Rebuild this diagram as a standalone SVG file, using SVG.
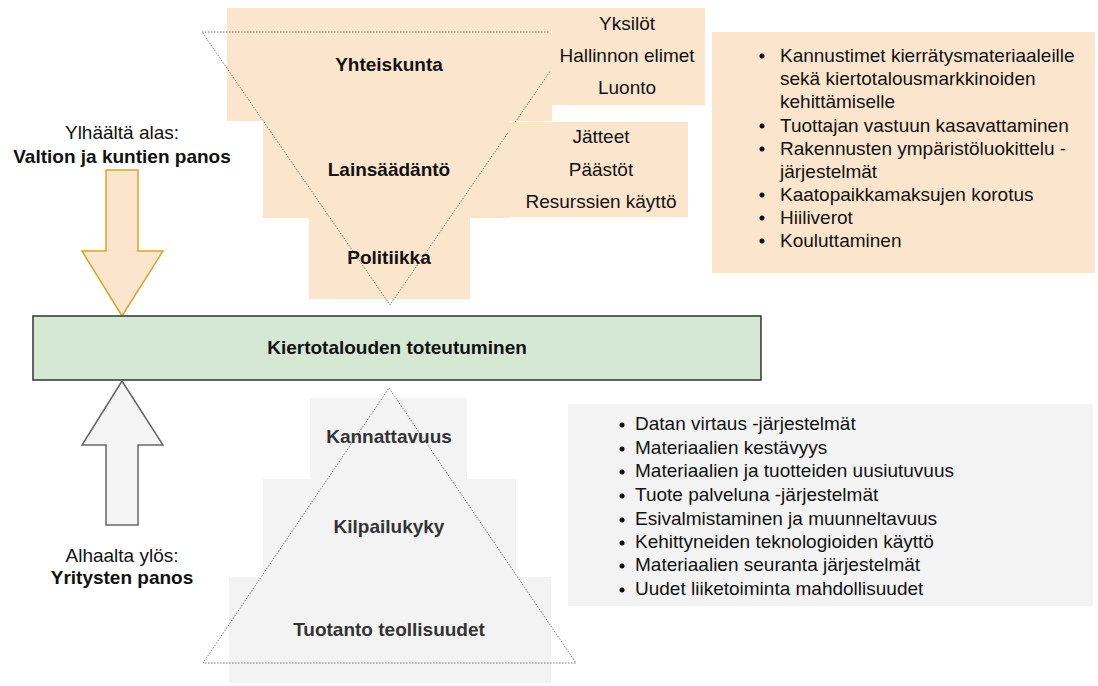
<svg xmlns="http://www.w3.org/2000/svg" width="1098" height="686" viewBox="0 0 1098 686">
<style>
.peach{fill:#fce5cd;stroke:none}
.gray{fill:#f3f3f3;stroke:none}
.tri{fill:none;stroke:#777;stroke-width:1;stroke-dasharray:1.5 1.5}
text{font-family:"Liberation Sans",Arial,sans-serif;font-size:19px;fill:#111}
.b{font-weight:bold}
.c{text-anchor:middle}
.g{fill:#333}
</style>
<rect width="1098" height="686" fill="#fff"/>
<g id="top-pyramid">
<rect class="peach" x="227" y="8" width="325" height="113"/>
<rect class="peach" x="263" y="120" width="246" height="98"/>
<rect class="peach" x="309" y="217" width="161" height="82"/>
<polygon class="tri" points="202,32 577,32 390,305"/>
<text class="b c" x="389" y="71">Yhteiskunta</text>
<text class="b c" x="389" y="176">Lainsäädäntö</text>
<text class="b c" x="389" y="264">Politiikka</text>
</g>
<g id="society-box">
<rect class="peach" x="550" y="8" width="155" height="97"/>
<text class="c" x="627" y="30">Yksilöt</text>
<text class="c" x="627" y="62">Hallinnon elimet</text>
<text class="c" x="627" y="94">Luonto</text>
</g>
<g id="law-box">
<rect class="peach" x="508" y="122" width="180" height="95"/>
<text class="c" x="601" y="143">Jätteet</text>
<text class="c" x="601" y="176">Päästöt</text>
<text class="c" x="601" y="208">Resurssien käyttö</text>
</g>
<g id="policy-list">
<rect class="peach" x="712" y="32" width="383" height="241"/>
<g>
<circle cx="762" cy="56" r="2.5" fill="#111"/>
<circle cx="762" cy="126" r="2.5" fill="#111"/>
<circle cx="762" cy="149" r="2.5" fill="#111"/>
<circle cx="762" cy="195" r="2.5" fill="#111"/>
<circle cx="762" cy="218" r="2.5" fill="#111"/>
<circle cx="762" cy="241" r="2.5" fill="#111"/>
</g>
<text x="780" y="62">Kannustimet kierrätysmateriaaleille</text>
<text x="780" y="85">sekä kiertotalousmarkkinoiden</text>
<text x="780" y="108">kehittämiselle</text>
<text x="780" y="132">Tuottajan vastuun kasavattaminen</text>
<text x="780" y="155">Rakennusten ympäristöluokittelu -</text>
<text x="780" y="178">järjestelmät</text>
<text x="780" y="201">Kaatopaikkamaksujen korotus</text>
<text x="780" y="224">Hiiliverot</text>
<text x="780" y="247">Kouluttaminen</text>
</g>
<g id="top-label">
<text class="c" x="122" y="139">Ylhäältä alas:</text>
<text class="b c" x="122" y="163">Valtion ja kuntien panos</text>
</g>
<g id="down-arrow">
<polygon points="106,170 138,170 138,251 163,251 122,316 82,251 106,251" fill="#fce5cd" stroke="#d6a52a" stroke-width="1.5"/>
</g>
<g id="center">
<rect x="33" y="316" width="728" height="64" fill="#d5e8d4" stroke="#333" stroke-width="1.5"/>
<text class="b c" x="397" y="354">Kiertotalouden toteutuminen</text>
</g>
<g id="up-arrow">
<polygon points="122,381 163,445 138,445 138,525 106,525 106,445 82,445" fill="#f5f5f5" stroke="#666" stroke-width="1.5"/>
</g>
<g id="bottom-label">
<text class="c" x="122" y="562">Alhaalta ylös:</text>
<text class="b c" x="122" y="584">Yritysten panos</text>
</g>
<g id="bottom-pyramid">
<rect class="gray" x="310" y="398" width="157" height="82"/>
<rect class="gray" x="263" y="479" width="253" height="99"/>
<rect class="gray" x="229" y="577" width="322" height="106"/>
<polygon class="tri" points="389,388 576,663 203,663"/>
<text class="b c g" x="389" y="443">Kannattavuus</text>
<text class="b c g" x="389" y="533">Kilpailukyky</text>
<text class="b c g" x="389" y="636">Tuotanto teollisuudet</text>
</g>
<g id="business-list">
<rect class="gray" x="568" y="404" width="525" height="202"/>
<g fill="#111">
<circle cx="622" cy="425" r="2.5"/>
<circle cx="622" cy="449" r="2.5"/>
<circle cx="622" cy="472" r="2.5"/>
<circle cx="622" cy="496" r="2.5"/>
<circle cx="622" cy="520" r="2.5"/>
<circle cx="622" cy="543" r="2.5"/>
<circle cx="622" cy="566" r="2.5"/>
<circle cx="622" cy="590" r="2.5"/>
</g>
<text x="635" y="430">Datan virtaus -järjestelmät</text>
<text x="635" y="454">Materiaalien kestävyys</text>
<text x="635" y="477">Materiaalien ja tuotteiden uusiutuvuus</text>
<text x="635" y="501">Tuote palveluna -järjestelmät</text>
<text x="635" y="525">Esivalmistaminen ja muunneltavuus</text>
<text x="635" y="548">Kehittyneiden teknologioiden käyttö</text>
<text x="635" y="571">Materiaalien seuranta järjestelmät</text>
<text x="635" y="595">Uudet liiketoiminta mahdollisuudet</text>
</g>
</svg>
